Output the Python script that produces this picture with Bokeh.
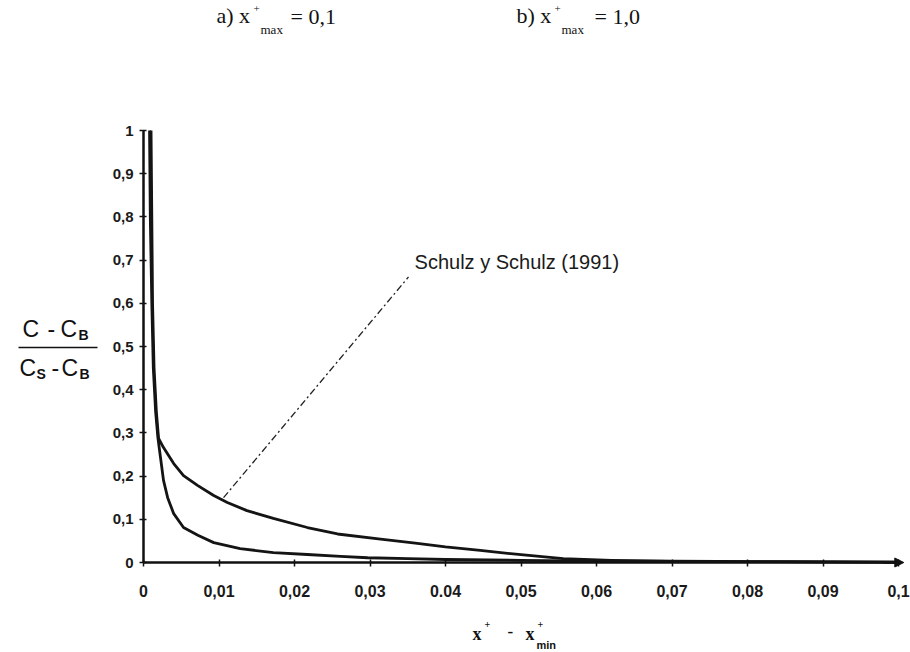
from bokeh.plotting import figure
from bokeh.models import Label, Arrow, NormalHead, FixedTicker, ColumnDataSource, Range1d
from bokeh.embed import file_html
from bokeh.resources import INLINE

# ---- data ----
x_upper = [0.0010, 0.0011, 0.0012, 0.0014, 0.0017, 0.0020, 0.00265, 0.0040, 0.0053, 0.0072,
           0.0093, 0.0111, 0.0137, 0.0172, 0.0217, 0.0257, 0.0314, 0.0360, 0.0400, 0.0446,
           0.0500, 0.0556, 0.062, 0.070, 0.085, 0.100]
y_upper = [1.00, 0.80, 0.60, 0.45, 0.35, 0.287, 0.266, 0.229, 0.201, 0.178,
           0.155, 0.139, 0.120, 0.102, 0.081, 0.066, 0.054, 0.045, 0.036, 0.028,
           0.018, 0.009, 0.005, 0.003, 0.002, 0.001]

x_lower = [0.0008, 0.0009, 0.0011, 0.0013, 0.0016, 0.0019, 0.00225, 0.00265, 0.0032, 0.0040,
           0.0053, 0.0072, 0.0093, 0.0128, 0.0172, 0.0217, 0.0261, 0.0297, 0.035, 0.040,
           0.050, 0.060, 0.080, 0.100]
y_lower = [1.00, 0.80, 0.60, 0.45, 0.35, 0.29, 0.243, 0.190, 0.150, 0.113,
           0.081, 0.063, 0.046, 0.032, 0.023, 0.0185, 0.014, 0.011, 0.009, 0.007,
           0.005, 0.003, 0.002, 0.001]

x_ticks = [0, 0.01, 0.02, 0.03, 0.04, 0.05, 0.06, 0.07, 0.08, 0.09, 0.1]
x_tick_labels = ["0", "0,01", "0,02", "0,03", "0.04", "0,05", "0,06", "0,07", "0,08", "0,09", "0,1"]
y_ticks = [0, 0.1, 0.2, 0.3, 0.4, 0.5, 0.6, 0.7, 0.8, 0.9, 1]
y_tick_labels = ["0", "0,1", "0,2", "0,3", "0,4", "0,5", "0,6", "0,7", "0,8", "0,9", "1"]

annot_text = "Schulz y Schulz (1991)"
annot_from = (0.0106, 0.15)
annot_to = (0.0351, 0.661)

# ---- layout: frame covers whole canvas; axes fixed at x=0 / y=0 ----
W, H = 910, 652
X0PX, X1PX = 143, 898      # canvas x of data 0 and 0.1
Y0PX, Y1PX = 562, 130      # canvas y of data 0 and 1
SX = (X1PX - X0PX) / 0.1
SY = (Y0PX - Y1PX) / 1.0
xr = Range1d(-X0PX / SX, (W - X0PX) / SX)
yr = Range1d(-(H - Y0PX) / SY, Y0PX / SY)

p = figure(width=W, height=H, x_range=xr, y_range=yr,
           output_backend="svg", toolbar_location=None,
           min_border=0, min_border_left=0, min_border_right=0,
           min_border_top=0, min_border_bottom=0)
p.background_fill_color = "white"
p.border_fill_color = "white"
p.outline_line_color = None
p.xgrid.visible = False
p.ygrid.visible = False

for ax in (p.xaxis[0], p.yaxis[0]):
    ax.fixed_location = 0
    ax.axis_line_color = "#111111"
    ax.axis_line_width = 2.5
    ax.major_tick_line_color = "#111111"
    ax.major_tick_line_width = 1.5
    ax.major_tick_in = 3
    ax.major_tick_out = 4
    ax.minor_tick_line_color = None
    ax.major_label_text_font = "Liberation Sans"
    ax.major_label_text_font_style = "bold"
    ax.major_label_text_color = "#1a1a1a"

p.xaxis.bounds = (0, 0.1)
p.xaxis.ticker = FixedTicker(ticks=x_ticks)
p.xaxis.major_label_overrides = dict(zip(x_ticks, x_tick_labels))
p.xaxis.major_label_text_font_size = "16px"
p.xaxis.major_label_standoff = 18

p.yaxis.bounds = (0, 1)
p.yaxis.ticker = FixedTicker(ticks=y_ticks)
p.yaxis.major_label_overrides = dict(zip(y_ticks, y_tick_labels))
p.yaxis.major_label_text_font_size = "15px"
p.yaxis.major_label_standoff = 6

# curves
p.line(x="x", y="y", source=ColumnDataSource(dict(x=x_upper, y=y_upper)),
       line_color="#141414", line_width=2.8, line_join="round")
p.line(x="x", y="y", source=ColumnDataSource(dict(x=x_lower, y=y_lower)),
       line_color="#141414", line_width=2.8, line_join="round")

# annotation leader
p.segment(x0=[annot_from[0]], y0=[annot_from[1]], x1=[annot_to[0]], y1=[annot_to[1]],
          line_color="#222222", line_width=1.3, line_dash="7 3 2 3")
p.add_layout(Label(x=annot_to[0] + 0.0008, y=annot_to[1] + 0.035, text=annot_text,
                   text_font="Liberation Sans", text_font_size="20px", text_color="#1a1a1a",
                   text_baseline="middle"))

# arrow at end of x axis
p.add_layout(Arrow(end=NormalHead(size=9, fill_color="#111111", line_color="#111111"),
                   x_start=0.098, y_start=0, x_end=0.1007, y_end=0,
                   line_color="#111111", line_width=2.5))


def cx2d(cx):
    return (cx - X0PX) / SX


def cy2d(cy):
    return (Y0PX - cy) / SY


def lab(text, cx, cy, size, font="Liberation Sans", style="normal", align="left"):
    p.add_layout(Label(x=cx2d(cx), y=cy2d(cy), text=text,
                       text_font=font, text_font_size=f"{size}px", text_font_style=style,
                       text_color="#111111", text_align=align, text_baseline="middle"))


# y-axis label as a fraction
lab("C", 22, 328, 23)
lab("-", 47, 328, 23)
lab("C", 60, 328, 23)
lab("B", 78, 334, 14, style="bold")
lab("C", 19, 367, 23)
lab("S", 36, 373, 14, style="bold")
lab("-", 51, 367, 23)
lab("C", 61, 367, 23)
lab("B", 79, 373, 14, style="bold")
p.segment(x0=[cx2d(18)], y0=[cy2d(347)], x1=[cx2d(97)], y1=[cy2d(347)],
          line_color="#111111", line_width=1.4)

# x-axis label
lab("x", 472, 633, 18, font="Liberation Serif", style="bold")
lab("+", 484, 624, 10, font="Liberation Serif", style="bold")
lab("-", 507, 631, 17, font="Liberation Serif", style="bold")
lab("x", 525, 633, 18, font="Liberation Serif", style="bold")
lab("+", 537, 624, 10, font="Liberation Serif", style="bold")
lab("min", 536, 644, 11, font="Liberation Sans", style="bold")

# titles
SERIF = "Liberation Serif"
lab("a) x", 216, 15, 22, font=SERIF)
lab("+", 253, 8, 11, font=SERIF)
lab("max", 260, 29, 13, font=SERIF)
lab("= 0,1", 290, 16, 22, font=SERIF)
lab("b) x", 516, 15, 22, font=SERIF)
lab("+", 554, 8, 11, font=SERIF)
lab("max", 561, 29, 13, font=SERIF)
lab("= 1,0", 594, 16, 22, font=SERIF)

open("out.html", "w").write(file_html(p, INLINE))
